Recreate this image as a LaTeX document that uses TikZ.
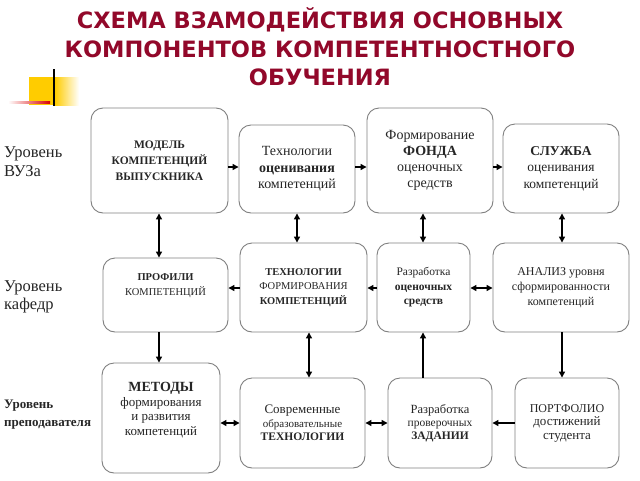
\documentclass[tikz,border=0pt]{standalone}
\usepackage{fontspec}
\setmainfont{Liberation Serif}
\newfontfamily\titlefont{DejaVu Sans}
\usetikzlibrary{arrows.meta}
\definecolor{titlered}{RGB}{146,8,42}
\definecolor{boxgray}{RGB}{128,128,128}
\definecolor{decoyellow}{RGB}{255,204,0}
\newcommand\myfs[2]{\fontsize{#1}{#2}\selectfont}
\begin{document}
\begin{tikzpicture}[x=1pt,y=-1pt,
  box/.style={draw=boxgray, line width=0.9pt, rounded corners=12pt, fill=white,
    align=center, inner sep=0pt, text=black!85},
  lvl/.style={anchor=north west, align=left, inner sep=0pt, text=black!85},
  arr/.style={-{Triangle[length=6pt,width=6pt]}, line width=1.3pt},
  dbl/.style={{Triangle[length=6pt,width=6pt]}-{Triangle[length=6pt,width=6pt]}, line width=1.3pt}]
\useasboundingbox (0,0) rectangle (640,480);
\fill[white] (0,0) rectangle (640,480);

% decoration
\fill[decoyellow] (29,77) rectangle (55,105);
\shade[left color=decoyellow, right color=white] (55,77) rectangle (79,105);
\shade[left color=white, right color=red!85!black] (8,101) rectangle (50,103.5);
\draw[line width=1.3pt] (54,69) -- (54,106);

% title
\node[font=\titlefont\bfseries\myfs{22.5}{28.5}, text=titlered, align=center, inner sep=0pt]
  (title) at (320,47) {СХЕМА ВЗАМОДЕЙСТВИЯ ОСНОВНЫХ\\КОМПОНЕНТОВ КОМПЕТЕНТНОСТНОГО\\ОБУЧЕНИЯ};

% level labels
\node[lvl, font=\myfs{16.5}{19.5}] (L1) at (4,146) {Уровень\\ВУЗа};
\node[lvl, font=\myfs{16.5}{18.5}] (L2) at (4,280) {Уровень\\кафедр};
\node[lvl, font=\bfseries\myfs{13}{17.5}] (L3) at (4,400) {Уровень\\преподавателя};

% row 1
\node[box, minimum width=137pt, minimum height=105pt, font=\bfseries\myfs{11.5}{16}] (B1) at (159.5,160.5)
  {МОДЕЛЬ\\КОМПЕТЕНЦИЙ\\ВЫПУСКНИКА};
\node[box, minimum width=116pt, minimum height=88pt, font=\myfs{14}{16.5}] (B2) at (297,169)
  {Технологии\\\textbf{оценивания}\\компетенций};
\node[box, minimum width=126pt, minimum height=105pt, font=\myfs{14}{16}] (B3) at (430,160.5)
  {Формирование\\\textbf{ФОНДА}\\оценочных\\средств};
\node[box, minimum width=116pt, minimum height=89pt, font=\myfs{13.5}{16.5}] (B4) at (561,168.5)
  {\textbf{СЛУЖБА}\\оценивания\\компетенций};

% row 2
\node[box, minimum width=125pt, minimum height=74pt, font=\myfs{10.5}{15}] (C1) at (165.5,295)
  {\textbf{ПРОФИЛИ}\\КОМПЕТЕНЦИЙ\\[6pt]};
\node[box, minimum width=127pt, minimum height=89pt, font=\myfs{10.5}{14.5}] (C2) at (303.5,287.5)
  {\textbf{ТЕХНОЛОГИИ}\\ФОРМИРОВАНИЯ\\\textbf{КОМПЕТЕНЦИЙ}};
\node[box, minimum width=93pt, minimum height=89pt, font=\myfs{11.5}{14.5}] (C3) at (423.5,287.5)
  {Разработка\\\textbf{оценочных}\\\textbf{средств}};
\node[box, minimum width=136pt, minimum height=89pt, font=\myfs{12}{15}] (C4) at (561,287.5)
  {АНАЛИЗ уровня\\сформированности\\компетенций};

% row 3
\node[box, minimum width=118pt, minimum height=110pt, font=\myfs{13}{14.5}] (D1) at (161,418)
  {{\bfseries\myfs{14}{14.5}МЕТОДЫ}\\формирования\\и развития\\компетенций\\[4pt]};
\node[box, minimum width=125pt, minimum height=90pt, font=\myfs{13}{13.5}] (D2) at (302.5,423)
  {Современные\\{\myfs{11}{13.5}образовательные}\\{\bfseries\myfs{11.5}{13.5}ТЕХНОЛОГИИ}};
\node[box, minimum width=104pt, minimum height=90pt, font=\myfs{12.5}{13}] (D3) at (440,423)
  {Разработка\\{\myfs{11.5}{13}проверочных}\\{\bfseries\myfs{11.5}{13}ЗАДАНИИ}};
\node[box, minimum width=104pt, minimum height=90pt, font=\myfs{13}{13.5}] (D4) at (567,423)
  {{\myfs{12}{13.5}ПОРТФОЛИО}\\достижений\\студента};

% helper coordinates
\coordinate (h1) at (0,167);
\coordinate (h2) at (0,288);
\coordinate (h3) at (0,423);
\coordinate (v1) at (159,0);
\coordinate (v2) at (297,0);
\coordinate (v2b) at (309,0);
\coordinate (v3) at (423,0);
\coordinate (v4) at (562,0);

% horizontal connectors
\draw[arr] (B1.east |- h1) -- (B2.west |- h1);
\draw[arr] (B2.east |- h1) -- (B3.west |- h1);
\draw[arr] (B3.east |- h1) -- (B4.west |- h1);
\draw[arr] (C2.west |- h2) -- (C1.east |- h2);
\draw[arr] (C3.west |- h2) -- (C2.east |- h2);
\draw[dbl] (C3.east |- h2) -- (C4.west |- h2);
\draw[dbl] (D1.east |- h3) -- (D2.west |- h3);
\draw[dbl] (D2.east |- h3) -- (D3.west |- h3);
\draw[arr] (D4.west |- h3) -- (D3.east |- h3);

% vertical connectors
\draw[dbl] (B1.south -| v1) -- (C1.north -| v1);
\draw[arr] (C1.south -| v1) -- (D1.north -| v1);
\draw[dbl] (B2.south -| v2) -- (C2.north -| v2);
\draw[dbl] (C2.south -| v2b) -- (D2.north -| v2b);
\draw[dbl] (B3.south -| v3) -- (C3.north -| v3);
\draw[arr] (D3.north -| v3) -- (C3.south -| v3);
\draw[dbl] (B4.south -| v4) -- (C4.north -| v4);
\draw[arr] (C4.south -| v4) -- (D4.north -| v4);
\end{tikzpicture}
\end{document}
